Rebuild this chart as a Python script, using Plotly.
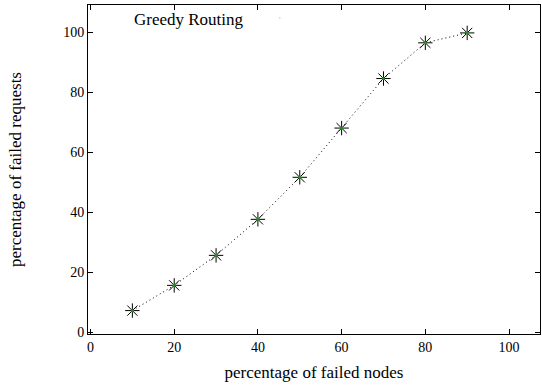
import plotly.graph_objects as go

failed_nodes = [10, 20, 30, 40, 50, 60, 70, 80, 90]
failed_requests = [7.2, 15.6, 25.6, 37.6, 51.6, 68.0, 84.5, 96.4, 99.7]
x_ticks = [0, 20, 40, 60, 80, 100]
y_ticks = [0, 20, 40, 60, 80, 100]
series_name = "Greedy Routing"

fig = go.Figure()
fig.add_trace(go.Scatter(
    x=failed_nodes, y=failed_requests, mode="lines",
    line=dict(color="black", width=1, dash="1px,3px"), showlegend=False))
fig.add_trace(go.Scatter(
    x=failed_nodes, y=failed_requests, mode="markers",
    marker=dict(symbol="asterisk-open", size=12, color="black",
                line=dict(color="black", width=1)),
    showlegend=False))
fig.add_trace(go.Scatter(
    x=failed_nodes, y=failed_requests, mode="markers",
    marker=dict(symbol="circle", size=3, color="#1a9a1a"),
    showlegend=False))

fig.add_annotation(x=0.097, y=0.99, xref="paper", yref="paper", text=series_name,
                   showarrow=False, xanchor="left", yanchor="top",
                   font=dict(family="Liberation Serif", size=17, color="black"))
fig.add_shape(type="circle", xref="paper", yref="paper",
              x0=0.423, x1=0.426, y0=0.959, y1=0.963,
              line=dict(width=0), fillcolor="#33ff33")

axis_common = dict(showgrid=False, zeroline=False, showline=True, linecolor="black",
                   linewidth=1, mirror="ticks", ticks="inside", ticklen=5,
                   tickcolor="black", tickfont=dict(family="Liberation Serif", size=14, color="black"))

fig.update_xaxes(range=[-0.6, 107.4], tickvals=x_ticks,
                 title=dict(text="percentage of failed nodes", standoff=12,
                            font=dict(family="Liberation Serif", size=17, color="black")),
                 **axis_common)
fig.update_yaxes(range=[-0.6, 109], tickvals=y_ticks,
                 title=dict(text="percentage of failed requests", standoff=37,
                            font=dict(family="Liberation Serif", size=17, color="black")),
                 **axis_common)

fig.update_layout(width=542, height=392, margin=dict(l=88, r=2, t=5, b=58),
                  plot_bgcolor="white", paper_bgcolor="white")
fig.write_html("out.html")
